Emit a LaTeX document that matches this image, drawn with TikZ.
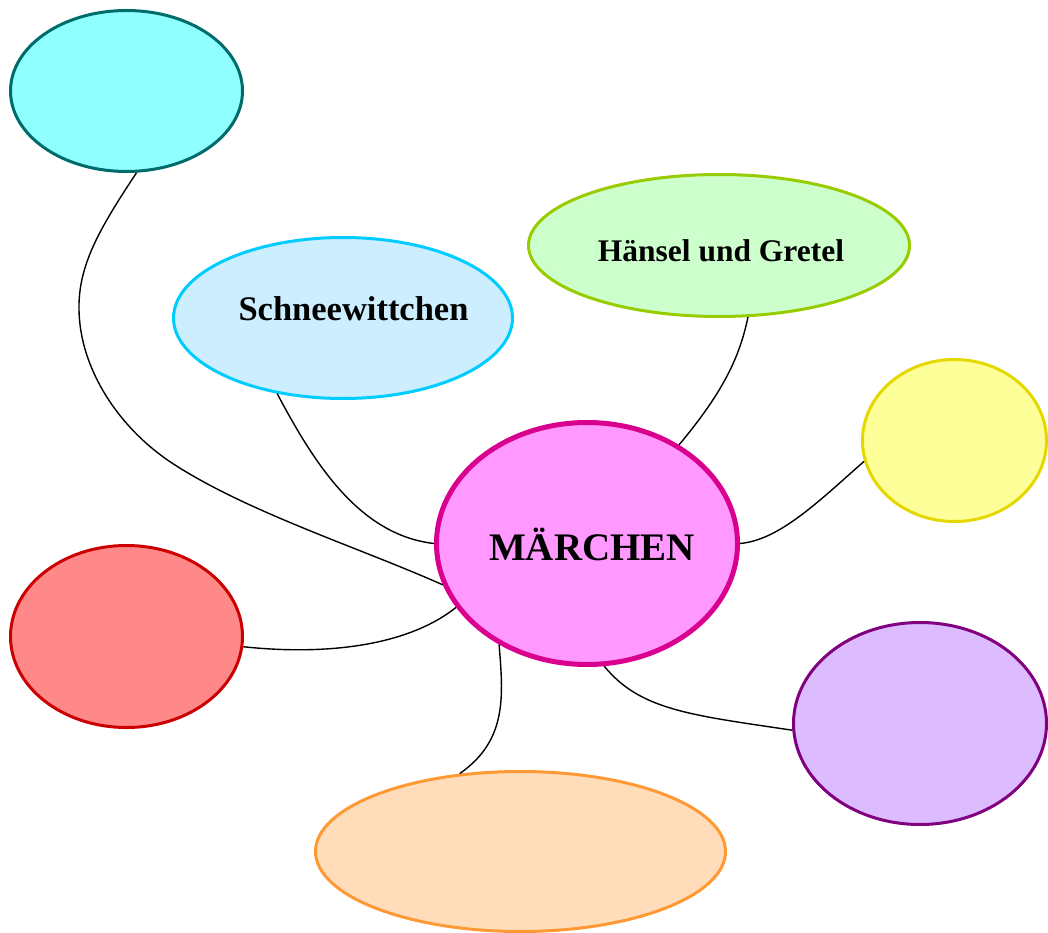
\documentclass[tikz,border=0pt]{standalone}
\usepackage{fontspec}
\setmainfont{Liberation Serif}
\usetikzlibrary{shapes.geometric}
\definecolor{cyanF}{HTML}{90FFFF}\definecolor{cyanD}{HTML}{006B6B}
\definecolor{schF}{HTML}{CCEEFF}\definecolor{schD}{HTML}{00CCFF}
\definecolor{hanF}{HTML}{CCFFCC}\definecolor{hanD}{HTML}{99CC00}
\definecolor{yelF}{HTML}{FFFF99}\definecolor{yelD}{HTML}{E5D800}
\definecolor{marF}{HTML}{FF99FF}\definecolor{marD}{HTML}{D9008F}
\definecolor{redF}{HTML}{FF8888}\definecolor{redD}{HTML}{CC0000}
\definecolor{purF}{HTML}{DDBBFF}\definecolor{purD}{HTML}{800080}
\definecolor{oraF}{HTML}{FFDDBB}\definecolor{oraD}{HTML}{FF9933}
\tikzset{
  bubble/.style={ellipse, inner sep=0pt, line width=3pt, draw},
  link/.style={line width=1.4pt, black},
  lbl/.style={anchor=base, inner sep=0pt, font=\bfseries}
}
\begin{document}
\begin{tikzpicture}[x=1pt,y=-1pt]
\useasboundingbox (0,0) rectangle (1048,933);
\node[bubble, fill=cyanF, draw=cyanD, minimum width=232pt, minimum height=161pt] (c) at (126.5,91) {};
\node[bubble, fill=schF, draw=schD, minimum width=339pt, minimum height=161pt] (s) at (343,318) {};
\node[bubble, fill=hanF, draw=hanD, minimum width=381pt, minimum height=142pt] (h) at (719,245.5) {};
\node[bubble, fill=yelF, draw=yelD, minimum width=184pt, minimum height=162pt] (y) at (954.5,440.5) {};
\node[bubble, fill=marF, draw=marD, line width=5pt, minimum width=301pt, minimum height=242pt] (m) at (587,543.5) {};
\node[bubble, fill=redF, draw=redD, minimum width=232pt, minimum height=182pt] (r) at (126.5,636.5) {};
\node[bubble, fill=purF, draw=purD, minimum width=253pt, minimum height=202pt] (p) at (920,723.5) {};
\node[bubble, fill=oraF, draw=oraD, minimum width=410pt, minimum height=160pt] (o) at (520.5,851.5) {};
\node[lbl, font=\bfseries\fontsize{39}{39}\selectfont] (mt) at (592,560) {MÄRCHEN};
\node[lbl, font=\bfseries\fontsize{34.5}{34.5}\selectfont] (st) at (353.5,320) {Schneewittchen};
\node[lbl, font=\bfseries\fontsize{31.5}{31.5}\selectfont] (ht) at (721,261) {Hänsel und Gretel};
\draw[link] (c.277) .. controls (100,228) and (78,265) .. (79,310)
  .. controls (80,370) and (120,430) .. (175,465)
  .. controls (250,513) and (360,548) .. (m.196);
\draw[link] (s.229) .. controls (315,465) and (360,535) .. (m.180);
\draw[link] (h.292) .. controls (740,355) and (725,390) .. (m.47);
\draw[link] (y.193) .. controls (820,500) and (780,540) .. (m.0);
\draw[link] (r.355) .. controls (320,655) and (405,648) .. (m.206);
\draw[link] (m.229) .. controls (503,695) and (508,740) .. (o.128);
\draw[link] (m.278) .. controls (640,710) and (690,715) .. (p.183);
\end{tikzpicture}
\end{document}
